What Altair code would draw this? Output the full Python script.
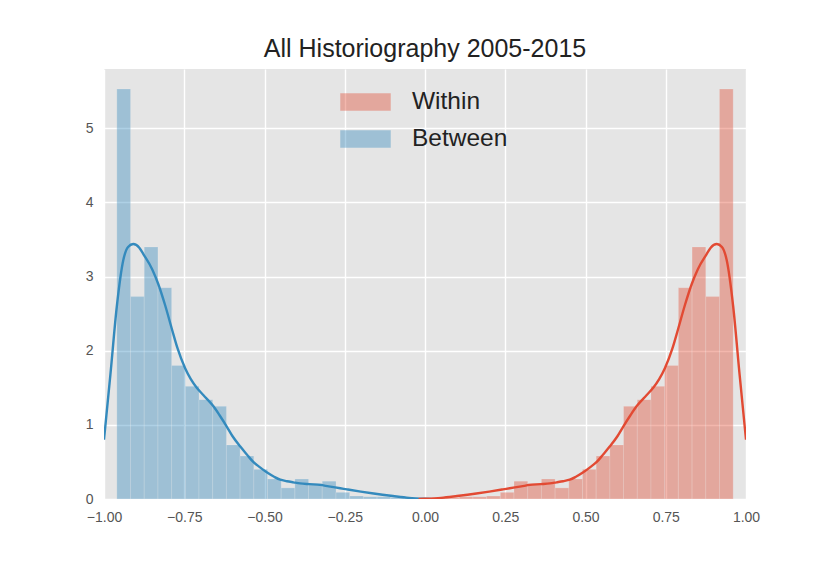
import altair as alt
import numpy as np
import pandas as pd

# ---------------- data ----------------
bin_lo = -0.96
bin_hi = 0.96
n_bins = 45

between_heights = [5.53, 2.73, 3.40, 2.85, 1.80, 1.52, 1.34, 1.25, 0.73, 0.58,
                   0.40, 0.27, 0.15, 0.27, 0.21, 0.24, 0.09, 0.04, 0.03, 0.03,
                   0.02, 0.02, 0.01, 0, 0, 0, 0, 0, 0, 0,
                   0, 0, 0, 0, 0, 0, 0, 0, 0, 0,
                   0, 0, 0, 0, 0]
within_heights = [0, 0, 0, 0, 0, 0, 0, 0, 0, 0,
                  0, 0, 0, 0, 0, 0, 0, 0, 0, 0,
                  0, 0, 0.01, 0.02, 0.02, 0.03, 0.03, 0.04, 0.09, 0.24,
                  0.21, 0.27, 0.15, 0.27, 0.40, 0.58, 0.73, 1.25, 1.34, 1.52,
                  1.80, 2.85, 3.40, 2.73, 5.53]

between_kde_x = [-1.0, -0.98, -0.96, -0.94, -0.925, -0.909, -0.89, -0.877, -0.85, -0.831,
                 -0.81, -0.789, -0.77, -0.748, -0.73, -0.711, -0.69, -0.659, -0.64, -0.618,
                 -0.60, -0.576, -0.555, -0.535, -0.515, -0.493, -0.47, -0.451, -0.43, -0.41,
                 -0.389, -0.36, -0.327, -0.30, -0.264, -0.243, -0.20, -0.16, -0.10, -0.05,
                 0.0, 0.02]
between_kde_y = [0.80, 1.68, 2.60, 3.22, 3.40, 3.44, 3.39, 3.30, 3.10, 2.90,
                 2.62, 2.30, 2.02, 1.77, 1.62, 1.50, 1.40, 1.25, 1.13, 0.98,
                 0.85, 0.71, 0.60, 0.50, 0.43, 0.36, 0.30, 0.26, 0.24, 0.225,
                 0.21, 0.20, 0.19, 0.17, 0.145, 0.13, 0.10, 0.074, 0.04, 0.015,
                 0.003, 0.0]
within_kde_x = [-0.02, 0.0, 0.05, 0.10, 0.16, 0.20, 0.243, 0.264, 0.30, 0.327,
                0.36, 0.389, 0.41, 0.43, 0.451, 0.47, 0.493, 0.515, 0.535, 0.555,
                0.576, 0.60, 0.618, 0.64, 0.659, 0.69, 0.711, 0.73, 0.748, 0.77,
                0.789, 0.81, 0.831, 0.85, 0.877, 0.89, 0.909, 0.925, 0.94, 0.96,
                0.98, 1.0]
within_kde_y = [0.0, 0.003, 0.015, 0.04, 0.074, 0.10, 0.13, 0.145, 0.17, 0.19,
                0.20, 0.21, 0.225, 0.24, 0.26, 0.30, 0.36, 0.43, 0.50, 0.60,
                0.71, 0.85, 0.98, 1.13, 1.25, 1.40, 1.50, 1.62, 1.77, 2.02,
                2.30, 2.62, 2.90, 3.10, 3.30, 3.39, 3.44, 3.40, 3.22, 2.60,
                1.68, 0.80]

series = ["Within", "Between"]
colors = ["#E24A33", "#348ABD"]
title_text = "All Historiography 2005-2015"

# ---------------- tables ----------------
edges = np.linspace(bin_lo, bin_hi, n_bins + 1)
hist_rows = []
for name, heights in (("Between", between_heights), ("Within", within_heights)):
    for i, h in enumerate(heights):
        if h > 0:
            hist_rows.append({"series": name, "x0": edges[i], "x1": edges[i + 1], "h": h})
hist_df = pd.DataFrame(hist_rows)

kde_df = pd.concat([
    pd.DataFrame({"series": "Between", "x": between_kde_x, "y": between_kde_y, "o": range(len(between_kde_x))}),
    pd.DataFrame({"series": "Within", "x": within_kde_x, "y": within_kde_y, "o": range(len(within_kde_x))}),
])

xscale = alt.Scale(domain=[-1, 1], nice=False, zero=False)
yscale = alt.Scale(domain=[0, 5.8], nice=False)
cscale = alt.Scale(domain=series, range=colors)

xaxis = alt.Axis(values=[-1, -0.75, -0.5, -0.25, 0, 0.25, 0.5, 0.75, 1], format=".2f",
                 title=None, domain=False, ticks=False, labelPadding=11,
                 labelFontSize=14, labelColor="#555555", labelFont="Liberation Sans",
                 gridColor="white", gridWidth=1.4, gridOpacity=1, labelFlush=False)
yaxis = alt.Axis(values=[0, 1, 2, 3, 4, 5], format="d", title=None, domain=False, ticks=False,
                 labelPadding=11, labelFontSize=14, labelColor="#555555", labelFont="Liberation Sans",
                 gridColor="white", gridWidth=1.4, gridOpacity=1)

bars = alt.Chart(hist_df).mark_rect(fillOpacity=0.4, stroke="#EEEEEE", strokeWidth=0.5,
                                     strokeOpacity=0.4).encode(
    x=alt.X("x0:Q", scale=xscale, axis=xaxis),
    x2="x1:Q",
    y=alt.Y("h:Q", scale=yscale, axis=yaxis),
    y2=alt.datum(0),
    color=alt.Color("series:N", scale=cscale,
                    legend=alt.Legend(title=None, orient="none", legendX=236, legendY=7.5,
                                      symbolType="M-1,-0.35L1,-0.35L1,0.35L-1,0.35Z",
                                      symbolSize=2550, symbolOpacity=0.4, symbolStrokeWidth=0,
                                      labelFontSize=24.5, labelFont="Liberation Sans",
                                      labelColor="#222222", labelOffset=21, rowPadding=-1.5,
                                      padding=0, labelLimit=300)),
)

lines = alt.Chart(kde_df).mark_line(strokeWidth=2.4, clip=True, interpolate="monotone").encode(
    x=alt.X("x:Q", scale=xscale),
    y=alt.Y("y:Q", scale=yscale),
    color=alt.Color("series:N", scale=cscale, legend=None),
    order="o:Q",
    detail="series:N",
)

chart = alt.layer(bars, lines).properties(
    width=642, height=430,
    title=alt.TitleParams(title_text, fontSize=25, font="Liberation Sans", fontWeight="normal",
                          color="#222222", anchor="middle", offset=7),
    autosize=alt.AutoSizeParams(type="none"),
    padding={"left": 96, "top": 61, "right": 76, "bottom": 56},
).configure(background="white").configure_view(fill="#E5E5E5", stroke=None)

chart.save("out.html", embed_options={"renderer": "svg", "actions": False})
